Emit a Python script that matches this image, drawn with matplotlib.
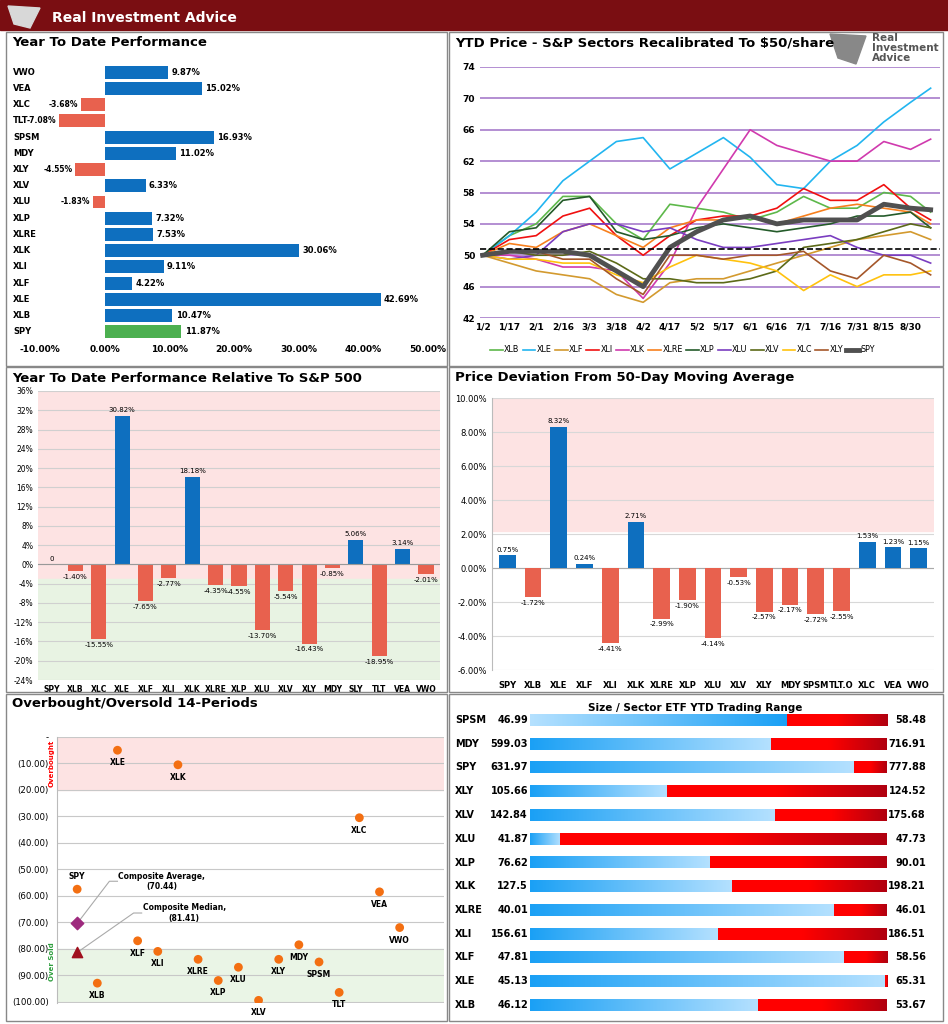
import numpy as np
import matplotlib
matplotlib.use("Agg")
import matplotlib.pyplot as plt
from matplotlib.patches import Rectangle, Polygon
from matplotlib.colors import LinearSegmentedColormap
from matplotlib.transforms import blended_transform_factory

W, H = 948, 1024
fig = plt.figure(figsize=(W/100, H/100), dpi=100)
plt.rcParams['font.family'] = ['DejaVu Sans']

def ax_px(l, t, r, b, **kw):
    return fig.add_axes([l/W, 1-b/H, (r-l)/W, (b-t)/H], **kw)

def ftext(x, y, s, **kw):
    fig.text(x/W, 1-y/H, s, **kw)

def fbox(l, t, r, b, **kw):
    fig.patches.append(Rectangle((l/W, 1-b/H), (r-l)/W, (b-t)/H, transform=fig.transFigure, **kw))

# ---------------- data ----------------
ytd_tickers = ["VWO","VEA","XLC","TLT","SPSM","MDY","XLY","XLV","XLU","XLP","XLRE","XLK","XLI","XLF","XLE","XLB","SPY"]
ytd_values = [9.87,15.02,-3.68,-7.08,16.93,11.02,-4.55,6.33,-1.83,7.32,7.53,30.06,9.11,4.22,42.69,10.47,11.87]

rel_tickers = ["SPY","XLB","XLC","XLE","XLF","XLI","XLK","XLRE","XLP","XLU","XLV","XLY","MDY","SLY","TLT","VEA","VWO"]
rel_values = [0,-1.40,-15.55,30.82,-7.65,-2.77,18.18,-4.35,-4.55,-13.70,-5.54,-16.43,-0.85,5.06,-18.95,3.14,-2.01]

dev_tickers = ["SPY","XLB","XLE","XLF","XLI","XLK","XLRE","XLP","XLU","XLV","XLY","MDY","SPSM","TLT.O","XLC","VEA","VWO"]
dev_values = [0.75,-1.72,8.32,0.24,-4.41,2.71,-2.99,-1.90,-4.14,-0.53,-2.57,-2.17,-2.72,-2.55,1.53,1.23,1.15]

ob_tickers = ["SPY","XLB","XLE","XLF","XLI","XLK","XLRE","XLP","XLU","XLV","XLY","MDY","SPSM","TLT","XLC","VEA","VWO"]
ob_values = [57.5,93,5,77,81,10.5,84,92,87,99.5,84,78.5,85,96.5,30.5,58.5,72]
comp_avg = 70.44
comp_med = 81.41

rng_tickers = ["SPSM","MDY","SPY","XLY","XLV","XLU","XLP","XLK","XLRE","XLI","XLF","XLE","XLB"]
rng_low = [46.99,599.03,631.97,105.66,142.84,41.87,76.62,127.5,40.01,156.61,47.81,45.13,46.12]
rng_high = [58.48,716.91,777.88,124.52,175.68,47.73,90.01,198.21,46.01,186.51,58.56,65.31,53.67]
rng_cur = [55.26,678.7,764.5,112.92,165.4,42.37,83.38,167.6,45.12,172.37,57.26,65.17,50.95]

date_labels = ["1/2","1/17","2/1","2/16","3/3","3/18","4/2","4/17","5/2","5/17","6/1","6/16","7/1","7/16","7/31","8/15","8/30","9/5"]
sector_series = {
    "XLB":  [50,52.5,54,57.5,57.5,54,52,56.5,56,55.5,54.5,55.5,57.5,56,56,58,57.5,55.5],
    "XLE":  [50,52.5,55.5,59.5,62,64.5,65,61,63,65,62.5,59,58.5,62,64,67,69.5,71.3],
    "XLF":  [50,49,48,47.5,47,45,44,46.5,47,47,48,49,50,51,52,52.5,53,52],
    "XLI":  [50,52,52.5,55,56,52.5,50,52.5,54.5,55,55,56,58.5,57,57,59,56,54.5],
    "XLK":  [50,50,49.5,48.5,48.5,48,44.5,49,56,61,66,64,63,62,62,64.5,63.5,64.8],
    "XLRE": [50,51.5,51,53,54,52.5,51,53.5,54.5,54.5,55,54,55,56,56.5,56,55.5,54],
    "XLP":  [50,53,53.5,57,57.5,53,52,52.5,53.5,54,53.5,53,53.5,54,55,55,55.5,53.5],
    "XLU":  [50,49.5,50,53,54,54,53,53.5,52,51,51,51.5,52,52.5,51,50,50,49],
    "XLV":  [50,50.5,50,50,50.5,49,47,47,46.5,46.5,47,48,51,51.5,52,53,54,53.5],
    "XLC":  [50,49.5,49.5,49,49,47.5,46.5,48.5,50,49.5,49,48,45.5,47.5,46,47.5,47.5,48],
    "XLY":  [50,50.5,50.5,49.5,49.5,47,45,50,50,49.5,50,50,50.5,48,47,50,49,47.5],
    "SPY":  [50,50.5,50.5,50.5,50,48,46,51,53,54.5,55,54,54.5,54.5,54.5,56.5,56,55.8],
}
sector_colors = {"XLB":"#5DB84A","XLE":"#22B5F0","XLF":"#D39A2F","XLI":"#F01010","XLK":"#D03AAE",
                 "XLRE":"#F7801E","XLP":"#245B2A","XLU":"#7A3DC0","XLV":"#5C6A18","XLC":"#FFC20E",
                 "XLY":"#A5572A","SPY":"#505050"}
baseline = 50.8

BLUE = "#0E6FBF"; RED = "#E8614E"; GREEN = "#4CB050"

# ---------------- header ----------------
fbox(0, 0, W, 30, color="#7A0E12", zorder=0)
ftext(52, 18, "Real Investment Advice", color="white", fontsize=10, fontweight="bold", va="center")
fig.patches.append(Polygon([[8/W,1-6/H],[40/W,1-8/H],[30/W,1-28/H],[14/W,1-24/H]], closed=True,
                           transform=fig.transFigure, color="#d8d8d8"))
for (l,t,r,b) in [(6,32,447,366),(449,32,943,366),(6,367,447,692),(449,367,943,692),(6,694,447,1021),(449,694,943,1021)]:
    fbox(l,t,r,b, fill=False, edgecolor="#888888", lw=1)

# ---------------- panel 1: YTD performance ----------------
ftext(12, 43, "Year To Date Performance", fontsize=9.5, fontweight="bold", va="center")
ax1 = ax_px(40, 64, 428, 340)
y = np.arange(len(ytd_tickers))
cols = [GREEN if t == "SPY" else (BLUE if v >= 0 else RED) for t, v in zip(ytd_tickers, ytd_values)]
ax1.barh(y, ytd_values, color=cols, height=0.8)
ax1.set_ylim(len(ytd_tickers)-0.5, -0.5)
ax1.set_xlim(-10, 50)
ax1.set_xticks(np.arange(-10, 51, 10))
ax1.set_xticklabels([f"{v:.2f}%" for v in np.arange(-10, 51, 10)], fontsize=6.5, fontweight="bold")
ax1.set_yticks([])
tr = blended_transform_factory(fig.transFigure, ax1.transData)
for yi, (t, v) in enumerate(zip(ytd_tickers, ytd_values)):
    ax1.text(13/W, yi, t, ha="left", va="center", fontsize=6, fontweight="bold", transform=tr, clip_on=False)
    if v >= 0:
        ax1.text(v+0.5, yi, f"{v:.2f}%", ha="left", va="center", fontsize=6, fontweight="bold")
    else:
        ax1.text(v-0.4, yi, f"{v:.2f}%", ha="right", va="center", fontsize=5.5, fontweight="bold")
for s in ax1.spines.values(): s.set_visible(False)
ax1.tick_params(length=0)

# ---------------- panel 2: YTD price ----------------
ftext(455, 43, "YTD Price - S&P Sectors Recalibrated To $50/share", fontsize=9.5, fontweight="bold", va="center")
ftext(872, 48, "Real\nInvestment\nAdvice", fontsize=7.5, fontweight="bold", color="#555555", va="center", linespacing=0.95)
fig.patches.append(Polygon([[830/W,1-34/H],[866/W,1-36/H],[856/W,1-64/H],[838/W,1-58/H]], closed=True,
                           transform=fig.transFigure, color="#888888"))
ax2 = ax_px(480, 67, 940, 318)
xs = list(range(len(date_labels)-1)) + [len(date_labels)-2+0.75]
for name, vals in sector_series.items():
    if name == "SPY":
        ax2.plot(xs, vals, color=sector_colors[name], lw=3.5, label=name, zorder=5)
    else:
        ax2.plot(xs, vals, color=sector_colors[name], lw=1.2, label=name)
ax2.axhline(baseline, color="black", ls="--", lw=1.2, zorder=6)
ax2.set_ylim(42, 74)
ax2.set_yticks(np.arange(42, 75, 4))
ax2.set_xlim(-0.1, 17.1)
ax2.set_xticks(range(len(date_labels)-1))
ax2.set_xticklabels(date_labels[:-1], fontsize=6.5, fontweight="bold")
ax2.tick_params(labelsize=6.5, length=0)
for lab in ax2.get_yticklabels(): lab.set_fontweight("bold")
ax2.yaxis.grid(True, color="#A77BCB", lw=1.2)
ax2.set_axisbelow(True)
for s in ax2.spines.values(): s.set_visible(False)
ax2.legend(ncol=12, loc="upper center", bbox_to_anchor=(0.44, -0.08), fontsize=5.8, frameon=False,
           handlelength=1.6, columnspacing=0.4, handletextpad=0.15)

# ---------------- panel 3: relative to SPY ----------------
ftext(12, 378, "Year To Date Performance Relative To S&P 500", fontsize=9.5, fontweight="bold", va="center")
ax3 = ax_px(38, 391, 440, 680)
x = np.arange(len(rel_tickers))
ax3.axhspan(-3, 36, color="#FDE3E3", zorder=0)
ax3.axhspan(-24, -3, color="#E8F3E3", zorder=0)
ax3.bar(x, rel_values, color=[BLUE if v > 0 else RED for v in rel_values], width=0.65, zorder=3)
ax3.set_ylim(-24, 36)
ax3.set_yticks(np.arange(-24, 37, 4))
ax3.set_yticklabels([f"{v}%" for v in np.arange(-24, 37, 4)], fontsize=5.5)
ax3.set_xlim(-0.6, len(x)-0.4)
ax3.set_xticks(x)
ax3.set_xticklabels(rel_tickers, fontsize=5.5, fontweight="bold")
ax3.yaxis.grid(True, color="#D0D0D0", lw=0.8)
ax3.set_axisbelow(True)
ax3.tick_params(length=0)
for s in ax3.spines.values(): s.set_visible(False)
ax3.axhline(0, color="#999999", lw=0.8, zorder=4)
for xi, v in zip(x, rel_values):
    lab = "0" if v == 0 else f"{v:.2f}%"
    if v >= 0:
        ax3.text(xi, v+0.6, lab, ha="center", va="bottom", fontsize=5, zorder=5)
    else:
        ax3.text(xi, v-0.6, lab, ha="center", va="top", fontsize=5, zorder=5)

# ---------------- panel 4: deviation from 50DMA ----------------
ftext(455, 378, "Price Deviation From 50-Day Moving Average", fontsize=9.5, fontweight="bold", va="center")
ax4 = ax_px(492, 398, 934, 670)
x = np.arange(len(dev_tickers))
ax4.axhspan(2.2, 10, color="#FDE3E3", zorder=0)
ax4.bar(x, dev_values, color=[BLUE if v > 0 else RED for v in dev_values], width=0.65, zorder=3)
ax4.set_ylim(-6, 10)
ax4.set_yticks(np.arange(-6, 11, 2))
ax4.set_yticklabels([f"{v:.2f}%" for v in np.arange(-6, 11, 2)], fontsize=6)
ax4.set_xlim(-0.6, len(x)-0.4)
ax4.set_xticks(x)
ax4.set_xticklabels(dev_tickers, fontsize=6, fontweight="bold")
ax4.tick_params(axis="x", pad=8, length=0)
ax4.tick_params(axis="y", length=0)
ax4.yaxis.grid(True, color="#D8D8D8", lw=0.8)
ax4.set_axisbelow(True)
for s in ax4.spines.values(): s.set_visible(False)
ax4.spines["left"].set_visible(True); ax4.spines["left"].set_color("#BBBBBB")
ax4.axhline(0, color="#AAAAAA", lw=0.8)
for xi, v in zip(x, dev_values):
    if v > 0:
        ax4.text(xi, v+0.15, f"{v:.2f}%", ha="center", va="bottom", fontsize=5)
    else:
        ax4.text(xi, v-0.15, f"{v:.2f}%", ha="center", va="top", fontsize=5)

# ---------------- panel 5: overbought/oversold ----------------
ftext(12, 704, "Overbought/Oversold 14-Periods", fontsize=9.5, fontweight="bold", va="center")
ax5 = ax_px(57, 737, 444, 1003)
ax5.axhspan(0, 20, color="#FDE3E3", zorder=0)
ax5.axhspan(80, 101, color="#EAF5E6", zorder=0)
xo = np.arange(1, len(ob_tickers)+1)
ax5.scatter(xo, ob_values, s=40, color="#F36F12", zorder=4, edgecolors="none")
ax5.set_ylim(100.5, 0)
ax5.set_xlim(0, 19.2)
ax5.set_yticks(np.arange(0, 101, 10))
ax5.set_yticklabels(["-"] + [f"({v:.2f})" for v in np.arange(10, 101, 10)], fontsize=6.2)
ax5.set_xticks([])
ax5.yaxis.grid(True, color="#C8C8C8", lw=0.8)
ax5.set_axisbelow(True)
ax5.tick_params(length=0, pad=6)
for s in ["top","right","bottom"]: ax5.spines[s].set_visible(False)
ax5.spines["left"].set_color("#BBBBBB")
for xi, t, v in zip(xo, ob_tickers, ob_values):
    if t == "SPY":
        ax5.text(xi, v-3, t, ha="center", va="bottom", fontsize=5.5, fontweight="bold")
    else:
        ax5.text(xi, v+3, t, ha="center", va="top", fontsize=5.5, fontweight="bold")
ax5.scatter([1], [comp_avg], marker="D", s=40, color="#9E2A7E", zorder=5)
ax5.scatter([1], [comp_med], marker="^", s=55, color="#A0101E", zorder=5)
ax5.plot([1, 2.6, 3], [comp_avg, 54.5, 54.5], color="#AAAAAA", lw=0.8)
ax5.plot([1, 3.8, 4.2], [comp_med, 66.5, 66.5], color="#AAAAAA", lw=0.8)
ax5.text(3.05, 54.5, "Composite Average,\n(70.44)", fontsize=5.5, fontweight="bold", va="center", ha="left", multialignment="center")
ax5.text(4.25, 66.5, "Composite Median,\n(81.41)", fontsize=5.5, fontweight="bold", va="center", ha="left", multialignment="center")
ftext(52, 763, "Overbought", color="red", fontsize=5, fontweight="bold", rotation=90, ha="center", va="center")
ftext(52, 962, "Over Sold", color="#2E9E3E", fontsize=5, fontweight="bold", rotation=90, ha="center", va="center")

# ---------------- panel 6: trading range ----------------
ax6 = ax_px(452, 698, 940, 1018)
ax6.axis("off")
ax6.text(695, 708, "Size / Sector ETF YTD Trading Range", fontsize=7.5, fontweight="bold", ha="center", va="center")
blue_cmap = LinearSegmentedColormap.from_list("b", ["#1AA0F5", "#B5E1FF"])
red_cmap = LinearSegmentedColormap.from_list("r", ["#FF0000", "#FF0000", "#B00010"])
grad = np.linspace(0, 1, 256).reshape(1, -1)
L, R = 530, 887
rows_y = np.linspace(720, 1005, len(rng_tickers))
for i, t in enumerate(rng_tickers):
    yc = rows_y[i]
    frac = (rng_cur[i]-rng_low[i])/(rng_high[i]-rng_low[i])
    xm = L + frac*(R-L)
    g = grad[:, ::-1] if t == "SPSM" else grad
    ax6.imshow(g, cmap=blue_cmap, aspect="auto", extent=[L, xm, yc+6, yc-6], zorder=2)
    ax6.imshow(grad, cmap=red_cmap, aspect="auto", extent=[xm, R, yc+6, yc-6], zorder=2)
    ax6.text(455, yc, t, fontsize=7, fontweight="bold", va="center", ha="left")
    ax6.text(528, yc, f"{rng_low[i]:g}", fontsize=7, fontweight="bold", va="center", ha="right")
    ax6.text(926, yc, f"{rng_high[i]:g}", fontsize=7, fontweight="bold", va="center", ha="right")
ax6.set_xlim(452, 940)
ax6.set_ylim(1018, 698)

fig.savefig("out.png", dpi=100)
